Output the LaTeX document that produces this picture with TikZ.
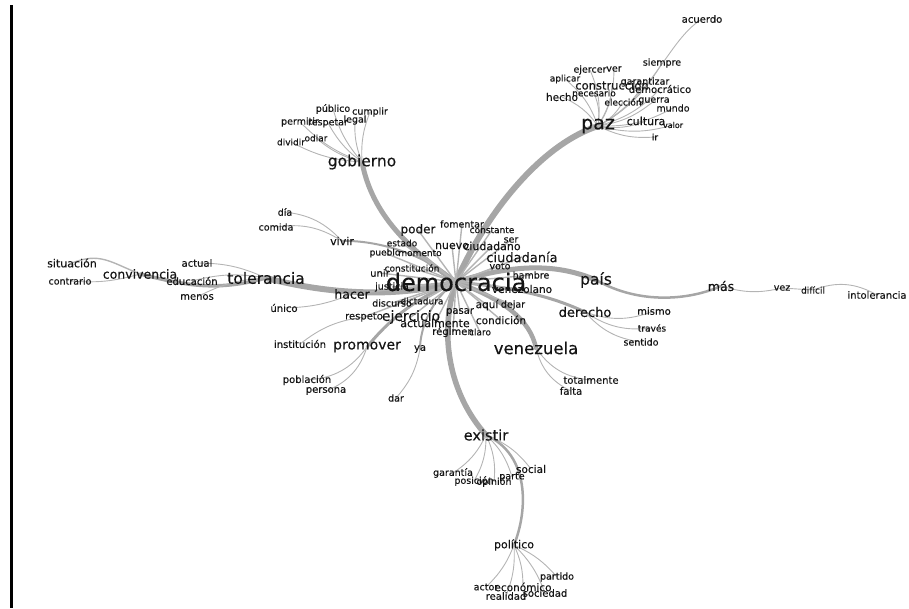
\documentclass[tikz,border=0pt]{standalone}
\usepackage{fontspec}
\setmainfont{DejaVu Sans}[FakeBold=0.3]
\usetikzlibrary{backgrounds}
\definecolor{edgegray}{HTML}{A6A6A6}
\definecolor{leafgray}{HTML}{B4B4B4}
\definecolor{inkgray}{HTML}{141414}
\tikzset{
  lex/.style={inner sep=0pt,text=inkgray,font=\fontsize{#1}{#1}\selectfont},
  lex/.default=10,
  trunk/.style={draw=edgegray,line width=#1,line cap=round},
  leaf/.style={draw=leafgray,line width=0.9pt}
}
\begin{document}
\begin{tikzpicture}[x=1pt,y=-1pt]
  \useasboundingbox (0,0) rectangle (909,608);
  \draw[line width=2.5pt] (11.5,5) -- (11.5,608);

  % Hub and main branches
  \node[lex=24] (democracia) at (456,282) {democracia};
  \node[lex=15.5] (gobierno) at (362,162) {gobierno};
  \node[lex=19] (paz) at (598,126) {paz};
  \node[lex=15.5] (tolerancia) at (266,278) {tolerancia};
  \node[lex=12.5] (convivencia) at (140,274) {convivencia};
  \node[lex=15.5] (pais) at (596,280) {país};
  \node[lex=12.5] (mas) at (721,286) {más};
  \node[lex=13] (derecho) at (585,312) {derecho};
  \node[lex=16.5] (venezuela) at (536,348) {venezuela};
  \node[lex=14.5] (existir) at (486,435) {existir};
  \node[lex=11] (politico) at (514,545) {político};
  \node[lex=14] (promover) at (367,347) {promover};
  \node[lex=12.5] (hacer) at (352,294) {hacer};
  \node[lex=14] (ejercicio) at (411,317) {ejercicio};
  \node[lex=13] (ciudadania) at (522,257) {ciudadanía};
  \node[lex=11] (vivir) at (342,241) {vivir};
  \node[lex=10] (ya) at (420,349) {ya};
  \node[lex=10] (respeto) at (364,317) {respeto};

  % Around democracia
  \node[lex=12] (poder) at (418,230) {poder};
  \node[lex=9.5] (fomentar) at (462,224) {fomentar};
  \node[lex=9] (constante) at (492,230) {constante};
  \node[lex=9] (estado) at (402,243) {estado};
  \node[lex=9] (pueblo) at (385,253) {pueblo};
  \node[lex=9] (momento) at (420,253) {momento};
  \node[lex=11] (nuevo) at (452,246) {nuevo};
  \node[lex=11] (ciudadano) at (492,246) {ciudadano};
  \node[lex=9.5] (ser) at (511,240) {ser};
  \node[lex=9.5] (voto) at (500,266) {voto};
  \node[lex=9.5] (hambre) at (531,275) {hambre};
  \node[lex=10.5] (venezolano) at (522,289) {venezolano};
  \node[lex=10] (unir) at (380,273) {unir};
  \node[lex=9] (constitucion) at (412,268) {constitución};
  \node[lex=9.5] (justicia) at (392,287) {justicia};
  \node[lex=9.5] (discurso) at (392,303) {discurso};
  \node[lex=9] (dictadura) at (422,301) {dictadura};
  \node[lex=11] (actualmente) at (435,323) {actualmente};
  \node[lex=10] (regimen) at (453,332) {régimen};
  \node[lex=9] (claro) at (480,332) {claro};
  \node[lex=10] (pasar) at (460,312) {pasar};
  \node[lex=10.5] (aqui) at (487,305) {aquí};
  \node[lex=9.5] (dejar) at (513,305) {dejar};
  \node[lex=10.5] (condicion) at (501,320) {condición};

  % gobierno
  \node[lex=9.5] (publico) at (333,109) {público};
  \node[lex=9.5] (cumplir) at (370,112) {cumplir};
  \node[lex=9.5] (permitir) at (300,122) {permitir};
  \node[lex=9.5] (respetar) at (328,123) {respetar};
  \node[lex=9.5] (legal) at (355,120) {legal};
  \node[lex=9] (dividir) at (291,142) {dividir};
  \node[lex=9] (odiar) at (316,138) {odiar};

  % paz
  \node[lex=10] (acuerdo) at (702,19) {acuerdo};
  \node[lex=9.5] (siempre) at (662,63) {siempre};
  \node[lex=9.5] (ejercer) at (590,70) {ejercer};
  \node[lex=9.5] (ver) at (614,69) {ver};
  \node[lex=9] (aplicar) at (565,79) {aplicar};
  \node[lex=11.5] (construccion) at (612,85) {construcción};
  \node[lex=9.5] (garantizar) at (645,82) {garantizar};
  \node[lex=10] (democratico) at (660,89) {democrático};
  \node[lex=10.5] (hecho) at (562,97) {hecho};
  \node[lex=9] (necesario) at (594,93) {necesario};
  \node[lex=9] (eleccion) at (623,102) {elección};
  \node[lex=9.5] (guerra) at (654,101) {guerra};
  \node[lex=9.5] (mundo) at (673,108) {mundo};
  \node[lex=11] (cultura) at (646,121) {cultura};
  \node[lex=8] (valor) at (673,125) {valor};
  \node[lex=9] (ir) at (655,137) {ir};

  % tolerancia / convivencia
  \node[lex=11] (situacion) at (72,263) {situación};
  \node[lex=9.5] (contrario) at (70,281) {contrario};
  \node[lex=10] (actual) at (197,263) {actual};
  \node[lex=10] (educacion) at (192,281) {educación};
  \node[lex=10] (menos) at (197,297) {menos};
  \node[lex=10] (unico) at (284,308) {único};

  % vivir
  \node[lex=9.5] (dia) at (285,212) {día};
  \node[lex=9.5] (comida) at (276,227) {comida};

  % promover
  \node[lex=10] (institucion) at (300,344) {institución};
  \node[lex=10] (poblacion) at (307,380) {población};
  \node[lex=10] (persona) at (326,391) {persona};
  \node[lex=9.5] (dar) at (396,398) {dar};

  % derecho, venezuela, mas
  \node[lex=10] (mismo) at (654,311) {mismo};
  \node[lex=9] (traves) at (652,328) {través};
  \node[lex=9.5] (sentido) at (641,342) {sentido};
  \node[lex=10] (totalmente) at (591,380) {totalmente};
  \node[lex=10] (falta) at (571,391) {falta};
  \node[lex=9.5] (vez) at (782,288) {vez};
  \node[lex=9] (dificil) at (813,290) {difícil};
  \node[lex=10] (intolerancia) at (877,295) {intolerancia};

  % existir / politico
  \node[lex=9.5] (garantia) at (453,473) {garantía};
  \node[lex=10.5] (social) at (531,469) {social};
  \node[lex=9.5] (posicion) at (474,481) {posición};
  \node[lex=9.5] (opinion) at (494,482) {opinión};
  \node[lex=9.5] (parte) at (512,477) {parte};
  \node[lex=9.5] (partido) at (557,577) {partido};
  \node[lex=9.5] (actor) at (486,587) {actor};
  \node[lex=10.5] (economico) at (523,587) {económico};
  \node[lex=10] (sociedad) at (545,593) {sociedad};
  \node[lex=10] (realidad) at (506,596) {realidad};

  \begin{scope}[on background layer]
    % Trunks
    \draw[trunk=5pt] (democracia.center) .. controls (410,250) and (372,215) .. (gobierno.center);
    \draw[trunk=6pt] (democracia.center) .. controls (485,215) and (540,145) .. (paz.center);
    \draw[trunk=6pt] (democracia.center) .. controls (390,300) and (320,292) .. (tolerancia.center);
    \draw[trunk=3.5pt] (tolerancia.center) .. controls (215,292) and (185,285) .. (convivencia.center);
    \draw[trunk=5pt] (democracia.center) .. controls (520,262) and (560,265) .. (pais.center);
    \draw[trunk=2.5pt] (pais.center) .. controls (640,305) and (690,300) .. (mas.center);
    \draw[trunk=3pt] (democracia.center) .. controls (520,288) and (555,298) .. (derecho.center);
    \draw[trunk=4.5pt] (democracia.center) .. controls (505,300) and (530,320) .. (venezuela.center);
    \draw[trunk=5.5pt] (democracia.center) .. controls (438,335) and (450,395) .. (existir.center);
    \draw[trunk=2.5pt] (existir.center) .. controls (530,455) and (528,510) .. (politico.center);
    \draw[trunk=3pt] (democracia.center) .. controls (410,300) and (385,325) .. (promover.center);
    \draw[trunk=2pt] (democracia.center) .. controls (430,300) and (420,330) .. (ya.center);
    \draw[trunk=2pt] (democracia.center) .. controls (420,250) and (370,240) .. (vivir.center);

    % Rays round democracia
    \foreach \w in {poder,fomentar,constante,estado,pueblo,momento,nuevo,ciudadano,ser,ciudadania,voto,hambre,venezolano,unir,constitucion,justicia,discurso,dictadura,respeto,ejercicio,actualmente,regimen,claro,pasar,aqui,dejar,condicion,hacer}
      \draw[leaf,line width=1.4pt] (democracia.center) -- (\w.center);

    % Leaves
    \foreach \w in {publico,cumplir,permitir,respetar,legal,dividir,odiar}
      \draw[leaf] (gobierno.center) to[bend left=12] (\w.center);
    \foreach \w in {siempre,ejercer,ver,aplicar,construccion,garantizar,democratico,hecho,necesario,eleccion,guerra,mundo,cultura,valor,ir}
      \draw[leaf] (paz.center) to[bend right=15] (\w.center);
    \draw[leaf] (paz.center) .. controls (655,95) and (668,40) .. (acuerdo.center);
    \draw[leaf,line width=1.4pt] (convivencia.center) .. controls (110,262) and (100,252) .. (situacion.center);
    \draw[leaf] (convivencia.center) to[bend left=10] (contrario.center);
    \foreach \w in {actual,educacion,menos}
      \draw[leaf] (tolerancia.center) to[bend right=12] (\w.center);
    \draw[leaf] (hacer.center) to[bend left=10] (unico.center);
    \foreach \w in {dia,comida}
      \draw[leaf] (vivir.center) to[bend right=20] (\w.center);
    \foreach \w in {poblacion,persona}
      \draw[leaf] (promover.center) to[bend left=25] (\w.center);
    \draw[leaf] (respeto.center) to[bend right=15] (institucion.center);
    \draw[leaf] (ya.center) to[bend left=15] (dar.center);
    \foreach \w in {mismo,traves,sentido}
      \draw[leaf] (derecho.center) to[bend right=20] (\w.center);
    \foreach \w in {totalmente,falta}
      \draw[leaf] (venezuela.center) to[bend right=25] (\w.center);
    \draw[leaf] (mas.center) to[bend right=15] (vez.center);
    \draw[leaf] (vez.center) -- (dificil.center);
    \draw[leaf] (dificil.center) to[bend left=25] (intolerancia.center);
    \foreach \w in {garantia,posicion,opinion,parte,social}
      \draw[leaf] (existir.center) to[bend left=15] (\w.center);
    \foreach \w in {partido,actor,economico,sociedad,realidad}
      \draw[leaf] (politico.center) to[bend left=12] (\w.center);
  \end{scope}
\end{tikzpicture}
\end{document}
